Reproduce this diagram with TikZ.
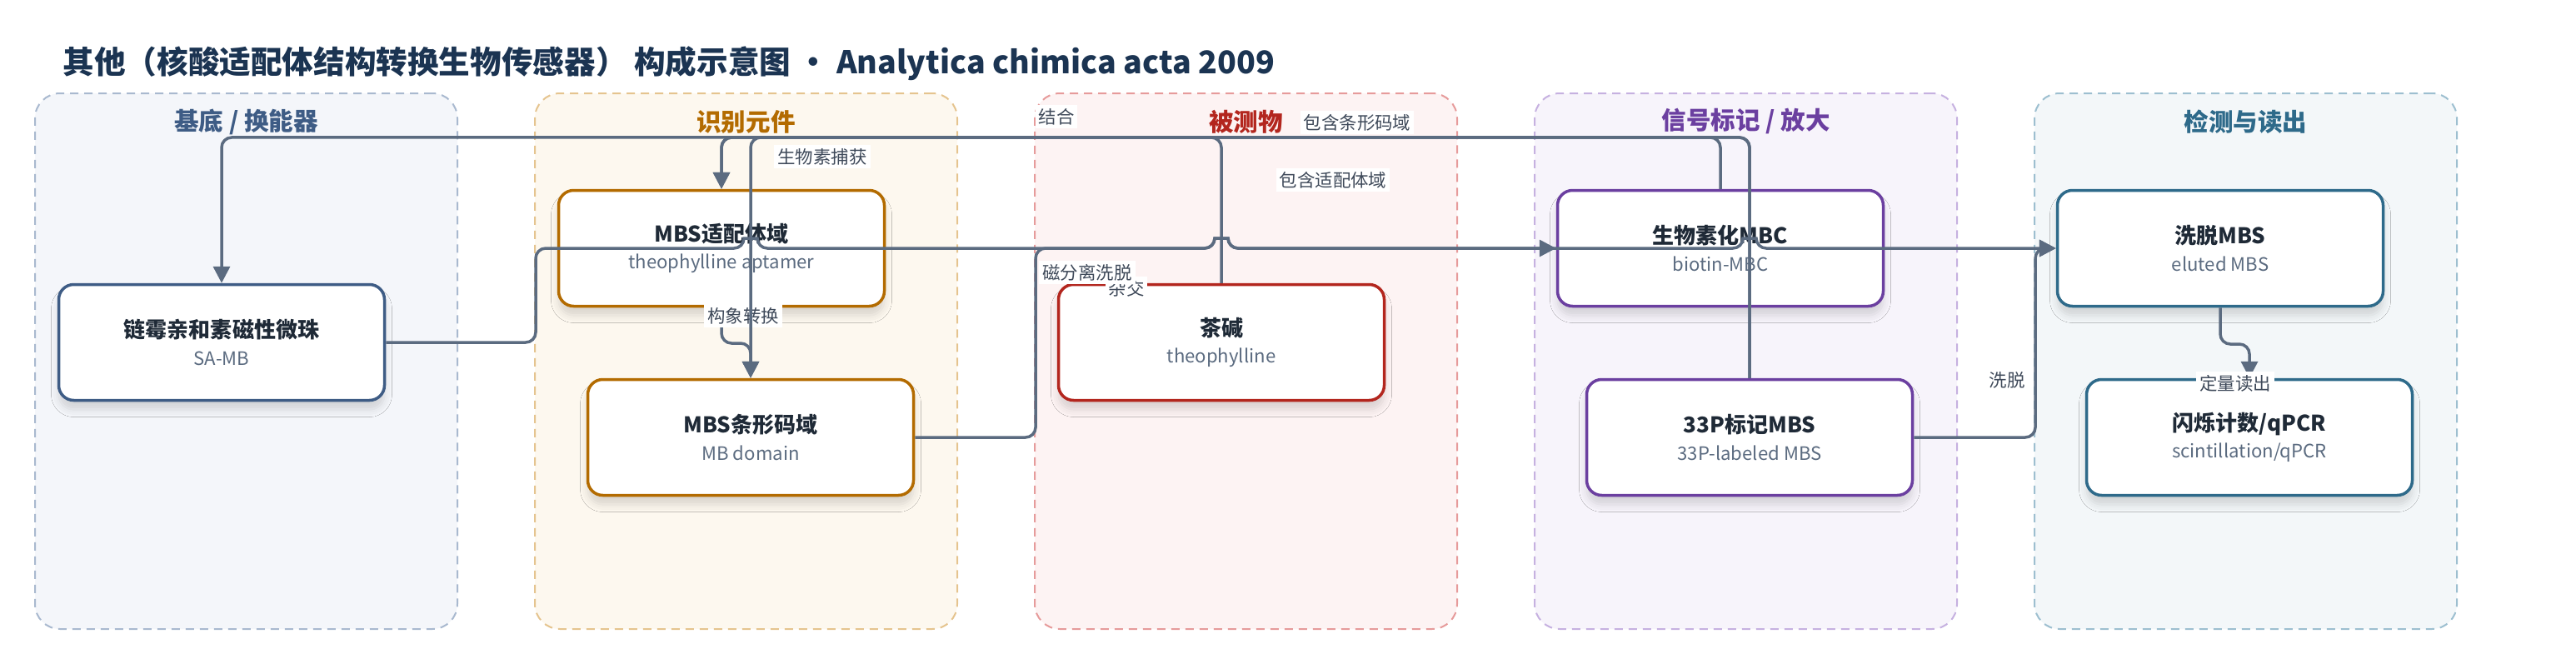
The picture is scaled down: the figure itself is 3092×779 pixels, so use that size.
\documentclass[tikz,border=0pt]{standalone}
\usepackage{fontspec}
\setmainfont{Noto Sans CJK SC}
\usetikzlibrary{arrows.meta,shadows.blur}
\definecolor{titlec}{HTML}{1B3452}
\definecolor{ink}{HTML}{1F2A37}
\definecolor{edgec}{HTML}{5B6B80}
\definecolor{labc}{HTML}{3F4A5A}
\definecolor{bA}{HTML}{A9B9CF}\definecolor{fA}{HTML}{F4F6FA}\definecolor{cA}{HTML}{3E5C85}
\definecolor{bB}{HTML}{E5C48F}\definecolor{fB}{HTML}{FDF8EF}\definecolor{cB}{HTML}{B36B00}
\definecolor{bC}{HTML}{E69B9B}\definecolor{fC}{HTML}{FDF3F3}\definecolor{cC}{HTML}{B3261E}
\definecolor{bD}{HTML}{C6B1E0}\definecolor{fD}{HTML}{F7F4FB}\definecolor{cD}{HTML}{6B3FA0}
\definecolor{bE}{HTML}{9DBFD0}\definecolor{fE}{HTML}{F3F7F9}\definecolor{cE}{HTML}{2E6A8A}
\newcommand\ntitle{\fontsize{7.4}{9}\selectfont\bfseries\color{ink}}
\newcommand\nsubline{\fontsize{6.3}{8}\selectfont\color{edgec}}
\tikzset{
  grp/.style 2 args={draw=#1,fill=#2,line width=0.2mm,dash pattern=on 1mm off 0.7mm,rounded corners=3mm,minimum width=50.7mm,minimum height=64.3mm,inner sep=0pt},
  grptitle/.style={text=#1,font=\fontsize{8.4}{10}\selectfont\bfseries,inner sep=0pt},
  comp/.style={draw=#1,fill=white,line width=0.35mm,rounded corners=1.8mm,minimum width=39.1mm,minimum height=13.9mm,align=center,inner sep=0pt,
    blur shadow={shadow xshift=0mm,shadow yshift=-1.1mm,shadow blur radius=0.9mm,shadow opacity=14}},
  conn/.style={draw=edgec,line width=0.35mm,rounded corners=1.2mm},
  arr/.style={-{Triangle[length=2mm,width=2mm]}},
  elab/.style={fill=white,inner sep=0.4mm,text=labc,font=\fontsize{6.1}{7}\selectfont}
}
\begin{document}
\begin{tikzpicture}[x=0.1mm,y=-0.1mm]
\useasboundingbox (0,0) rectangle (3092,779);
\node[anchor=west,inner sep=0pt,text=titlec,font=\fontsize{10.7}{12}\selectfont\bfseries] (ttl) at (75,76) {其他（核酸适配体结构转换生物传感器） 构成示意图 · Analytica chimica acta 2009};

\node[grp={bA}{fA}] (g1) at (295.5,433.5) {};
\node[grp={bB}{fB}] (g2) at (895.5,433.5) {};
\node[grp={bC}{fC}] (g3) at (1495.5,433.5) {};
\node[grp={bD}{fD}] (g4) at (2095.5,433.5) {};
\node[grp={bE}{fE}] (g5) at (2695.5,433.5) {};
\node[grptitle=cA] (t1) at (295.5,146) {基底 / 换能器};
\node[grptitle=cB] (t2) at (895.5,146) {识别元件};
\node[grptitle=cC] (t3) at (1495.5,146) {被测物};
\node[grptitle=cD] (t4) at (2095.5,146) {信号标记 / 放大};
\node[grptitle=cE] (t5) at (2695.5,146) {检测与读出};

\node[comp=cA] (samb) at (266,411) {{\ntitle 链霉亲和素磁性微珠}\\[-1mm]{\nsubline SA-MB}};
\node[comp=cB] (apt) at (866,298) {{\ntitle MBS适配体域}\\[-1mm]{\nsubline theophylline aptamer}};
\node[comp=cB] (bar) at (901,525) {{\ntitle MBS条形码域}\\[-1mm]{\nsubline MB domain}};
\node[comp=cC] (tea) at (1466,411) {{\ntitle 茶碱}\\[-1mm]{\nsubline theophylline}};
\node[comp=cD] (mbc) at (2065,298) {{\ntitle 生物素化MBC}\\[-1mm]{\nsubline biotin-MBC}};
\node[comp=cD] (p33) at (2100,525) {{\ntitle 33P标记MBS}\\[-1mm]{\nsubline 33P-labeled MBS}};
\node[comp=cE] (elu) at (2665,298) {{\ntitle 洗脱MBS}\\[-1mm]{\nsubline eluted MBS}};
\node[comp=cE] (read) at (2700,525) {{\ntitle 闪烁计数/qPCR}\\[-1mm]{\nsubline scintillation/qPCR}};

\coordinate (lane) at (0,165);
\draw[conn,arr] (elu.south) -- (2665,413) -- (2700,413) -- (read.north);
\draw[conn,arr] (apt.south) -- (866,412) -- (901,412) -- (bar.north);

\node[elab] (l9) at (892,379) {构象转换};
\node[elab] (l8) at (2683,460) {定量读出};
\node[elab] (l1) at (987,188) {生物素捕获};
\node[elab] (l2) at (1268,140) {结合};
\node[elab] (l3) at (1629,147) {包含条形码域};
\node[elab] (l4) at (1600,216) {包含适配体域};
\node[elab] (l6) at (1352,346) {杂交};
\node[elab] (l5) at (1305,327) {磁分离洗脱};
\node[elab] (l7) at (2409,456) {洗脱};

\draw[conn,arr] (mbc.north) -- (mbc.north |- lane) -| (samb.north);
\draw[conn,arr] (tea.north) -- (tea.north |- lane) -| (apt.north);
\draw[conn,arr] (p33.north) -- (p33.north |- lane) -| (bar.north);
\draw[conn,arr] (p33.north) -- (p33.north |- lane) -| (apt.north);
\draw[conn,arr] (samb.east) -- (643,411) -- (643,298) -- (893,298) .. controls (893,286) and (909,286) .. (909,298) -- (1458,298) .. controls (1458,286) and (1474,286) .. (1474,298) -- (2092,298) .. controls (2092,286) and (2108,286) .. (2108,298) -- (elu.west);
\draw[conn,arr] (bar.east) -- (1243,525) -- (1243,298) -- (1458,298) .. controls (1458,286) and (1474,286) .. (1474,298) -- (mbc.west);
\draw[conn,arr] (p33.east) -- (2443,525) -- (2443,298) -- (elu.west);
\end{tikzpicture}
\end{document}
